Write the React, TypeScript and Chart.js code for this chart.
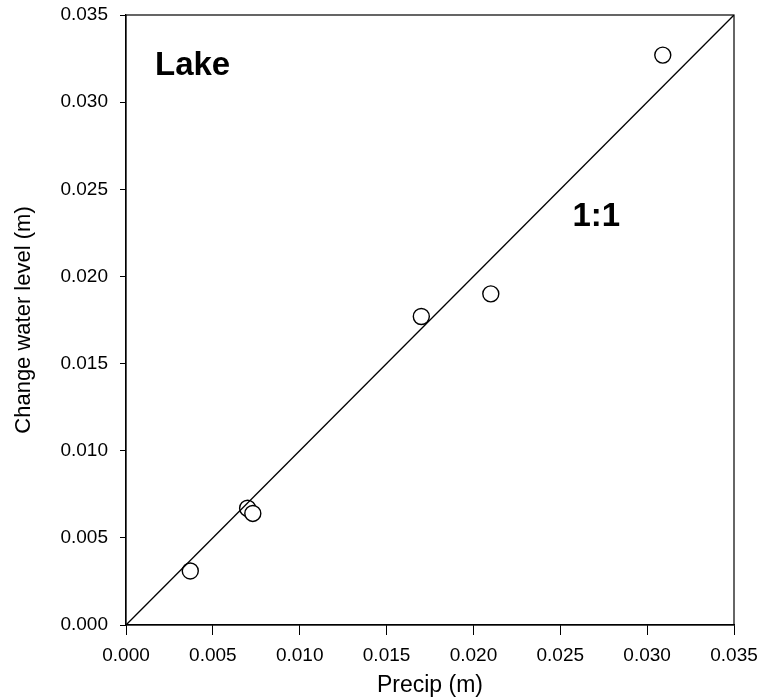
import React, { useEffect, useRef } from "react";
import { Chart, registerables } from "chart.js";

Chart.register(...registerables);

const precip = [0.0037, 0.0070, 0.0073, 0.0170, 0.0210, 0.0309];
const changeWaterLevel = [0.0031, 0.0067, 0.0064, 0.0177, 0.0190, 0.0327];
const oneToOneX = [0, 0.035];
const oneToOneY = [0, 0.035];
const axisMin = 0;
const axisMax = 0.035;
const axisStep = 0.005;
const xTitle = "Precip (m)";
const yTitle = "Change water level (m)";
const labelLake = { text: "Lake", x: 0.00167, y: 0.0321 };
const labelOneToOne = { text: "1:1", x: 0.0257, y: 0.0234 };

const FONT = "'Liberation Sans', Arial, sans-serif";

const framePlugin = {
  id: "frameAndText",
  afterDraw(chart: any) {
    const { ctx, chartArea, scales } = chart;
    ctx.save();
    ctx.strokeStyle = "#000";
    ctx.lineWidth = 1.2;
    ctx.strokeRect(chartArea.left, chartArea.top, chartArea.right - chartArea.left, chartArea.bottom - chartArea.top);
    ctx.fillStyle = "#000";
    ctx.textBaseline = "middle";
    ctx.textAlign = "left";
    ctx.font = `bold 33px ${FONT}`;
    for (const l of [labelLake, labelOneToOne]) {
      ctx.fillText(l.text, scales.x.getPixelForValue(l.x), scales.y.getPixelForValue(l.y));
    }
    ctx.restore();
  },
};

const zeroPad = (scale: any) => {
  scale.paddingTop = 0;
  scale.paddingBottom = 0;
  scale.paddingLeft = 0;
  scale.paddingRight = 0;
};

export default function App() {
  const ref = useRef<HTMLCanvasElement | null>(null);
  useEffect(() => {
    if (!ref.current) return;
    const tickFmt = (v: any) => Number(v).toFixed(3);
    const chart = new Chart(ref.current, {
      type: "scatter",
      data: {
        datasets: [
          {
            type: "line",
            data: oneToOneX.map((x, i) => ({ x, y: oneToOneY[i] })),
            borderColor: "#000",
            borderWidth: 1.3,
            pointRadius: 0,
            fill: false,
          } as any,
          {
            data: precip.map((x, i) => ({ x, y: changeWaterLevel[i] })),
            backgroundColor: "#fff",
            borderColor: "#000",
            borderWidth: 1.4,
            pointRadius: 8,
          },
        ],
      },
      options: {
        animation: false,
        responsive: false,
        layout: { padding: { left: 0, top: 15, right: 28, bottom: 0 } },
        plugins: { legend: { display: false }, tooltip: { enabled: false } },
        scales: {
          x: {
            type: "linear",
            min: axisMin,
            max: axisMax,
            ticks: { stepSize: axisStep, callback: tickFmt, color: "#000", font: { family: FONT, size: 19 }, padding: 9, maxRotation: 0 },
            grid: { drawOnChartArea: false, drawTicks: true, tickLength: 10, color: "#000" },
            border: { display: true, color: "#000", width: 1.2 },
            title: { display: true, text: xTitle, color: "#000", font: { family: FONT, size: 23 }, padding: { top: 0, bottom: 1 } },
            afterFit(scale: any) { scale.height = 75; zeroPad(scale); },
          },
          y: {
            type: "linear",
            min: axisMin,
            max: axisMax,
            ticks: { stepSize: axisStep, callback: tickFmt, color: "#000", font: { family: FONT, size: 19 }, padding: 12 },
            grid: { drawOnChartArea: false, drawTicks: true, tickLength: 6, color: "#000" },
            border: { display: true, color: "#000", width: 1.2 },
            title: { display: true, text: yTitle, color: "#000", font: { family: FONT, size: 22 }, padding: { top: 11, bottom: 0 } },
            afterFit(scale: any) { scale.width = 126; zeroPad(scale); },
          },
        },
      },
      plugins: [framePlugin],
    } as any);
    return () => chart.destroy();
  }, []);
  return (
    <div style={{ position: "absolute", left: 0, top: 0, width: 762, height: 700, background: "#fff" }}>
      <canvas ref={ref} width={762} height={700} style={{ width: 762, height: 700 }} />
    </div>
  );
}
